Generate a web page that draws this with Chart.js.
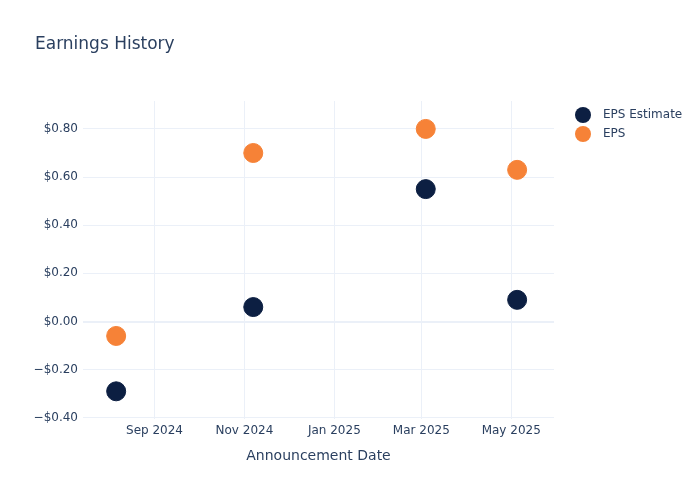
<!DOCTYPE html>
<html>
<head>
<meta charset="utf-8">
<script src="https://cdn.jsdelivr.net/npm/chart.js@4"></script>
<style>
  html,body{margin:0;padding:0;background:#fff}
  #wrap{width:700px;height:500px;position:relative}
</style>
</head>
<body>
<div id="wrap"><canvas id="c" width="700" height="500"></canvas></div>
<script>
// Data
const dates       = ['2024-08-06', '2024-11-07', '2025-03-04', '2025-05-05']
const epsEstimate = [-0.29, 0.06, 0.55, 0.09]
const epsActual   = [-0.06, 0.70, 0.80, 0.63]
const xTickDates  = ['2024-09-01', '2024-11-01', '2025-01-01', '2025-03-01', '2025-05-01']
const yTicks      = [-0.4, -0.2, 0, 0.2, 0.4, 0.6, 0.8]
const monthNames  = ['Jan','Feb','Mar','Apr','May','Jun','Jul','Aug','Sep','Oct','Nov','Dec']

const ts = s => { const p = s.split('-').map(Number); return Date.UTC(p[0], p[1]-1, p[2]) }
const FONT = '"DejaVu Sans", "Open Sans", sans-serif'
const INK = '#2a3f5f'
const GRID = '#ebf0f8'

function fmtMoney(v){
  const s = '$' + Math.abs(v).toFixed(2)
  return v < -1e-9 ? '\u2212' + s : s
}
function fmtMonth(t){
  const d = new Date(t)
  return monthNames[d.getUTCMonth()] + ' ' + d.getUTCFullYear()
}

// title + legend drawn by hand, plotly-like
const decor = {
  id: 'decor',
  afterDraw(chart){
    const ctx = chart.ctx
    ctx.save()
    ctx.fillStyle = INK
    ctx.font = '17px ' + FONT
    ctx.textBaseline = 'middle'
    ctx.textAlign = 'left'
    ctx.fillText('Earnings History', 35, 45)
    ctx.font = '12px ' + FONT
    chart.data.datasets.forEach((ds, i) => {
      const y = 115 + i * 19
      ctx.beginPath()
      ctx.arc(583, y, 8, 0, Math.PI * 2)
      ctx.fillStyle = ds.backgroundColor
      ctx.fill()
      ctx.fillStyle = INK
      ctx.fillText(ds.label, 603, y)
    })
    ctx.restore()
  }
}

const chart = new Chart(document.getElementById('c'), {
  type: 'scatter',
  data: {
    datasets: [
      { label: 'EPS Estimate', data: dates.map((d,i)=>({x: ts(d), y: epsEstimate[i]})),
        backgroundColor: '#0c1f42', borderColor: '#0c1f42', pointRadius: 9.5, pointHoverRadius: 9.5 },
      { label: 'EPS', data: dates.map((d,i)=>({x: ts(d), y: epsActual[i]})),
        backgroundColor: '#f68237', borderColor: '#f68237', pointRadius: 9.5, pointHoverRadius: 9.5 }
    ]
  },
  options: {
    responsive: false,
    animation: false,
    layout: { padding: { top: 101, right: 146, left: 0, bottom: 0 } },
    plugins: { legend: { display: false }, tooltip: { enabled: false } },
    scales: {
      x: {
        type: 'linear',
        min: ts('2024-07-14') + 12 * 3600e3,
        max: ts('2025-05-30'),
        afterBuildTicks: s => { s.ticks = xTickDates.map(d => ({ value: ts(d) })) },
        afterFit: s => { s.height = 81 },
        grid: { color: GRID, lineWidth: 1, drawTicks: false },
        border: { display: false },
        ticks: { color: INK, font: { family: FONT, size: 12 }, padding: 5, maxRotation: 0,
                 callback: v => fmtMonth(v) },
        title: { display: true, text: 'Announcement Date', color: INK,
                 font: { family: FONT, size: 14 }, padding: { top: 0, bottom: 35 } }
      },
      y: {
        min: -0.405,
        max: 0.916,
        afterBuildTicks: s => { s.ticks = yTicks.map(v => ({ value: v })) },
        afterFit: s => { s.width = 83 },
        grid: { color: GRID, drawTicks: false,
                lineWidth: c => (c.tick && Math.abs(c.tick.value) < 1e-9) ? 2 : 1 },
        border: { display: false },
        ticks: { color: INK, font: { family: FONT, size: 12 }, padding: 5,
                 callback: v => fmtMoney(v) }
      }
    }
  },
  plugins: [decor]
})
</script>
</body>
</html>
